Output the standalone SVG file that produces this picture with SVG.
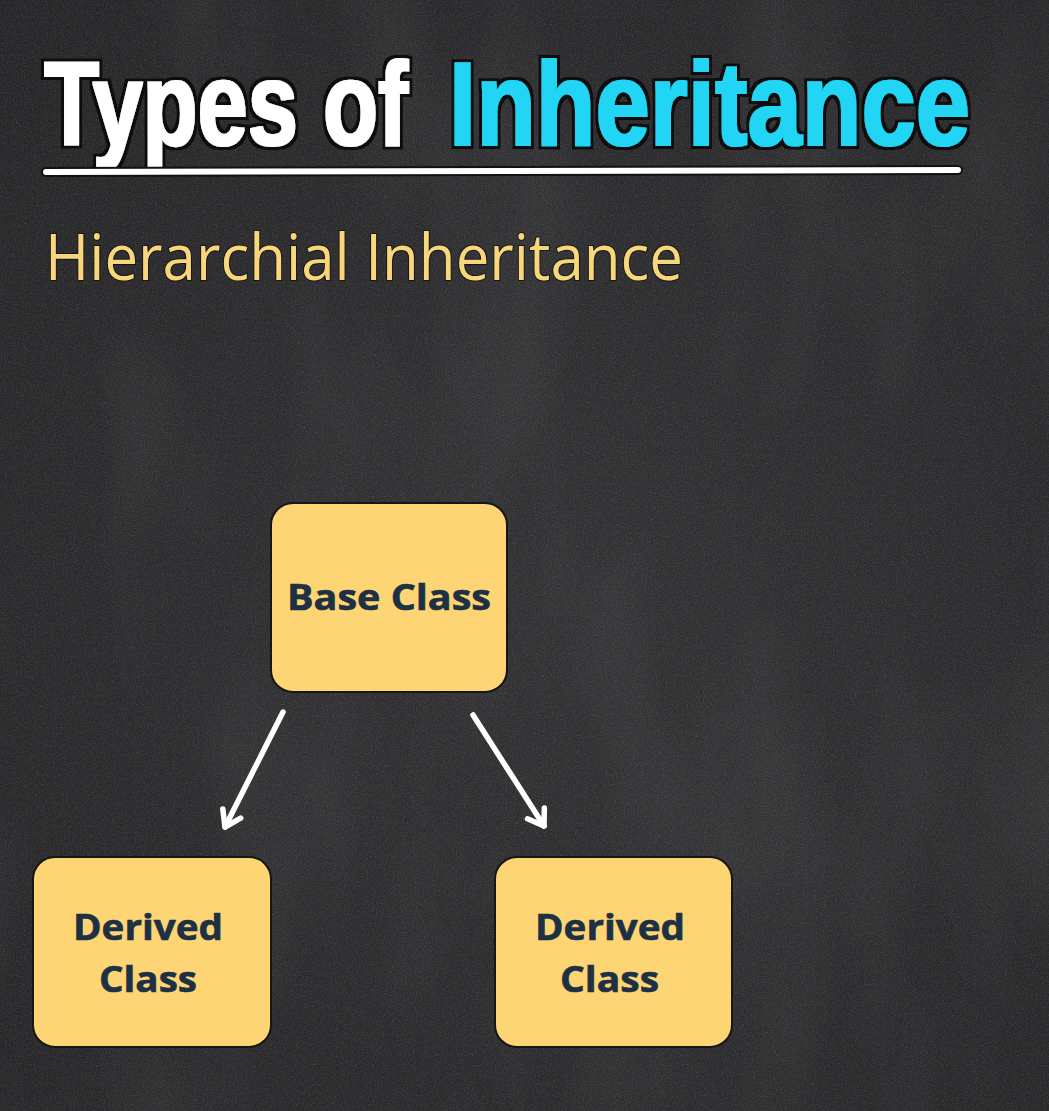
<svg xmlns="http://www.w3.org/2000/svg" width="1049" height="1111" viewBox="0 0 1049 1111">
  <defs>
    <!-- chalkboard grain -->
    <filter id="grain" x="0" y="0" width="100%" height="100%">
      <feTurbulence type="fractalNoise" baseFrequency="0.9" numOctaves="2" seed="4" result="n"/>
      <feColorMatrix in="n" type="matrix" values="0 0 0 0 1  0 0 0 0 1  0 0 0 0 1  0 0 0 0.9 -0.38" />
    </filter>
    <!-- faint eraser smears -->
    <filter id="smudge" x="0" y="0" width="100%" height="100%">
      <feTurbulence type="fractalNoise" baseFrequency="0.007 0.003" numOctaves="3" seed="9" result="n"/>
      <feColorMatrix in="n" type="matrix" values="0 0 0 0 1  0 0 0 0 1  0 0 0 0 1  0 0 0 0.5 -0.22" />
    </filter>
    <!-- heavy heading: thicken the glyphs a little and wrap them in a dark edge -->
    <filter id="heavy" x="-5%" y="-20%" width="110%" height="140%">
      <feMorphology in="SourceGraphic" operator="dilate" radius="1" result="fat"/>
      <feMorphology in="SourceAlpha" operator="dilate" radius="3.5" result="edgeA"/>
      <feFlood flood-color="#111111"/>
      <feComposite operator="in" in2="edgeA" result="edge"/>
      <feMerge>
        <feMergeNode in="edge"/>
        <feMergeNode in="fat"/>
      </feMerge>
    </filter>
    <radialGradient id="board" cx="0.55" cy="0.55" r="0.8">
      <stop offset="0" stop-color="#323234"/>
      <stop offset="1" stop-color="#252527"/>
    </radialGradient>
    <marker id="chevron" viewBox="0 0 30 30" refX="22" refY="15" markerWidth="30" markerHeight="30" markerUnits="userSpaceOnUse" orient="auto">
      <path d="M7,5 L22,15 L7,25" fill="none" stroke="#ffffff" stroke-width="5.5" stroke-linecap="round" stroke-linejoin="round"/>
    </marker>
  </defs>
  <style>
    .title { font-family: "Liberation Sans", sans-serif; font-weight: bold; font-size: 119px; }
    .sub { font-family: "Open Sans", "Noto Sans", sans-serif; font-size: 64px; fill: #f8d67c; stroke: #151515; stroke-width: 2; paint-order: stroke; }
    .box { fill: #fdd574; stroke: #161616; stroke-width: 2; }
    .lbl { font-family: "Open Sans", "Noto Sans", sans-serif; font-weight: bold; font-size: 35px; fill: #1e3044; stroke: #1e3044; stroke-width: 0.6; }
    .arrow { stroke: #ffffff; stroke-width: 5.5; stroke-linecap: round; fill: none; }
  </style>

  <!-- board -->
  <rect width="1049" height="1111" fill="url(#board)"/>
  <rect width="1049" height="1111" filter="url(#smudge)" opacity="0.22"/>
  <rect width="1049" height="1111" filter="url(#grain)" opacity="0.3"/>

  <!-- heading: condensed by a horizontal scale -->
  <g id="heading">
    <g filter="url(#heavy)">
      <text class="title" fill="#ffffff" transform="translate(44,145) scale(0.746,1)" textLength="488" lengthAdjust="spacingAndGlyphs">Types of</text>
      <text class="title" fill="#22d5f5" transform="translate(449,145) scale(0.822,1)" textLength="634" lengthAdjust="spacingAndGlyphs">Inheritance</text>
    </g>
    <line x1="46" y1="172" x2="958" y2="170" stroke="#111" stroke-width="10" stroke-linecap="round"/>
    <line x1="46" y1="172" x2="958" y2="170" stroke="#ffffff" stroke-width="6" stroke-linecap="round"/>
  </g>

  <g id="subtitle">
    <text class="sub" x="45" y="280" textLength="638" lengthAdjust="spacingAndGlyphs">Hierarchial Inheritance</text>
  </g>

  <!-- connectors -->
  <g id="connectors">
    <line class="arrow" x1="283" y1="712" x2="225" y2="827" marker-end="url(#chevron)"/>
    <line class="arrow" x1="473" y1="715" x2="544" y2="826" marker-end="url(#chevron)"/>
  </g>

  <g id="base-class">
    <rect class="box" x="271" y="503" width="236" height="189" rx="22"/>
    <text class="lbl" x="287" y="610" textLength="204" lengthAdjust="spacingAndGlyphs">Base Class</text>
  </g>

  <g id="derived-left">
    <rect class="box" x="33" y="857" width="238" height="190" rx="22"/>
    <text class="lbl" x="73" y="940" textLength="150" lengthAdjust="spacingAndGlyphs">Derived</text>
    <text class="lbl" x="99" y="992" textLength="98" lengthAdjust="spacingAndGlyphs">Class</text>
  </g>

  <g id="derived-right">
    <rect class="box" x="495" y="857" width="237" height="190" rx="22"/>
    <text class="lbl" x="535" y="940" textLength="150" lengthAdjust="spacingAndGlyphs">Derived</text>
    <text class="lbl" x="560" y="992" textLength="99" lengthAdjust="spacingAndGlyphs">Class</text>
  </g>
</svg>
